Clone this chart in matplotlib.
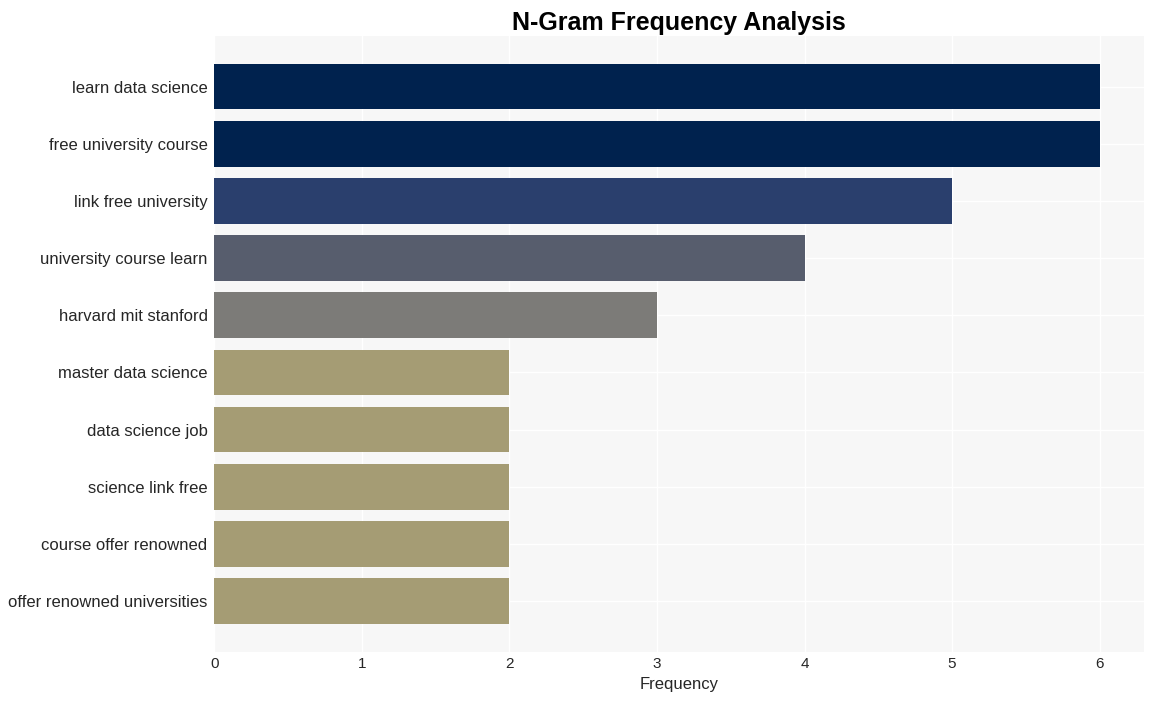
import numpy as np
from matplotlib import pyplot as plt
import matplotlib

plt.rcParams['font.family'] = ['Liberation Sans', 'DejaVu Sans']

# n-grams, top to bottom
ngrams = ['learn data science', 'free university course', 'link free university',
          'university course learn', 'harvard mit stanford', 'master data science',
          'data science job', 'science link free', 'course offer renowned',
          'offer renowned universities']
counts = [6, 6, 5, 4, 3, 2, 2, 2, 2, 2]

fig, ax = plt.subplots(figsize=(11.53, 7.01), dpi=100)
ax.set_facecolor('#f7f7f7')

cmap = matplotlib.colormaps['cividis_r']
colors = [cmap(c / max(counts)) for c in counts]

y = np.arange(len(ngrams))
ax.barh(y, counts, height=0.8, color=colors, zorder=2)
ax.set_yticks(y)
ax.set_yticklabels(ngrams, fontsize=12, color='#262626')
ax.invert_yaxis()
ax.set_xlim(0, max(counts) * 1.05)

ax.grid(True, color='white', linewidth=1, zorder=0)
ax.set_axisbelow(True)
for s in ax.spines.values():
    s.set_visible(False)
ax.tick_params(axis='y', length=0, pad=5)
ax.tick_params(axis='x', length=0, pad=4, labelsize=11, labelcolor='#262626')

ax.set_xlabel('Frequency', fontsize=12, color='#262626', labelpad=4)
ax.set_title('N-Gram Frequency Analysis', fontsize=18, fontweight='bold', pad=4)

fig.subplots_adjust(left=0.186, right=0.992, top=0.949, bottom=0.07)
fig.savefig('out.png')
